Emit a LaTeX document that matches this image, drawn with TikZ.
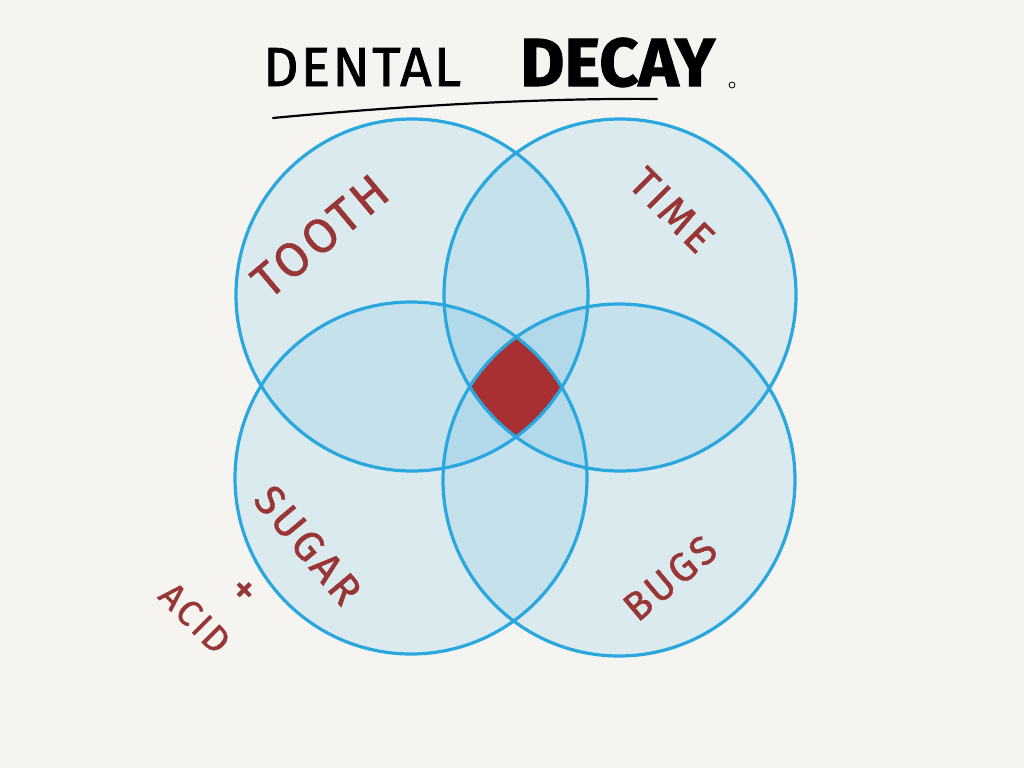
\documentclass[tikz,border=0pt]{standalone}
\usepackage{fontspec}
\setmainfont{Fira Sans}
\newfontfamily\labfont{Fira Sans}[LetterSpace=8, FakeBold=1.2]
\newfontfamily\dentfont{Fira Sans}[LetterSpace=4, FakeBold=1.5]
\newfontfamily\decfont{Fira Sans Bold}[FakeBold=1.5]
\definecolor{bgc}{RGB}{245,244,240}
\definecolor{tintc}{RGB}{72,177,227}
\definecolor{ringc}{RGB}{42,167,223}
\definecolor{corec}{RGB}{168,48,50}
\definecolor{inkred}{RGB}{152,54,54}
\tikzset{
  ring/.style={draw=ringc, line width=3.2pt},
  tint/.style={fill=tintc, fill opacity=0.15},
  lab/.style={text=inkred, inner sep=0pt},
  ttl/.style={text=black, inner sep=0pt}
}
\begin{document}
\begin{tikzpicture}[x=1pt,y=-1pt]
\useasboundingbox (0,0) rectangle (1024,768);
\fill[bgc] (0,0) rectangle (1024,768);
% tinted fills
\foreach \cx/\cy in {412/295, 620/295, 411/478, 619/480}{
  \path[tint] (\cx,\cy) circle (176);
}
% core intersection
\begin{scope}
  \clip (412,295) circle (176);
  \clip (620,295) circle (176);
  \clip (411,478) circle (176);
  \fill[corec] (619,480) circle (176);
\end{scope}
% rings
\foreach \cx/\cy in {412/295, 620/295, 411/478, 619/480}{
  \draw[ring] (\cx,\cy) circle (176);
}
% title
\node[ttl, font=\dentfont\fontsize{55}{55}\selectfont, anchor=base west] (t1) at (263,86) {DENTAL};
\node[ttl, font=\decfont\fontsize{68}{68}\selectfont, anchor=base west] (t2) at (520,86) {DECAY};
\coordinate (u1) at (273,118);
\coordinate (u2) at (657,99);
\draw[line width=2.2pt, line cap=round] (u1) .. controls (420,104) and (560,98) .. (u2);
\node[draw, circle, inner sep=0pt, minimum size=6pt, line width=0.8pt] (dot) at (732,85) {};
% labels
\node[lab, rotate=40, font=\labfont\fontsize{48}{48}\selectfont] (tooth) at (320,236) {TOOTH};
\node[lab, rotate=-45, font=\labfont\fontsize{42}{42}\selectfont] (time) at (672,210) {TIME};
\node[lab, rotate=-50, font=\labfont\fontsize{42}{42}\selectfont] (sugar) at (308,545) {SUGAR};
\node[lab, rotate=40, font=\labfont\fontsize{40}{40}\selectfont] (bugs) at (670,578) {BUGS};
\node[lab, rotate=-45, font=\labfont\fontsize{36}{36}\selectfont] (acid) at (195,618) {ACID};
\node[lab, rotate=-45, font=\labfont\fontsize{44}{44}\selectfont] (plus) at (242,592) {+};
\end{tikzpicture}
\end{document}
